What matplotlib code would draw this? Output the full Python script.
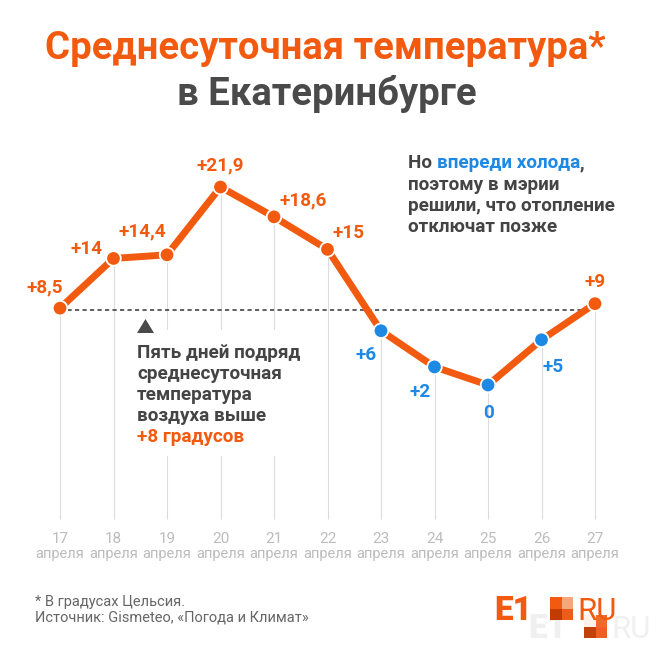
"""Среднесуточная температура в Екатеринбурге, 17-27 апреля."""

import matplotlib
import matplotlib.pyplot as plt
from matplotlib.patches import Rectangle, Polygon

matplotlib.use("Agg")

# --- data -----------------------------------------------------------------
days = ["17", "18", "19", "20", "21", "22", "23", "24", "25", "26", "27"]
month = "апреля"
temps = [8.5, 14, 14.4, 21.9, 18.6, 15, 6, 2, 0, 5, 9]
threshold = 8.3  # dashed reference line (+8 градусов)

title_1 = "Среднесуточная температура*"
title_2 = "в Екатеринбурге"
note_right = ["поэтому в мэрии", "решили, что отопление", "отключат позже"]
note_left = ["Пять дней подряд", "среднесуточная", "температура", "воздуха выше"]
note_left_hl = "+8 градусов"
footer = ["* В градусах Цельсия.", "Источник: Gismeteo, «Погода и Климат»"]

# --- style ----------------------------------------------------------------
ORANGE = "#f25a0f"
BLUE = "#1e88e5"
DARK = "#444444"
GRID = "#dcdcdc"
TICK = "#bcbcbc"
FONT = "Roboto"
plt.rcParams["font.family"] = [FONT, "DejaVu Sans"]

W, H = 656, 656
# pixel calibration of the plotting area
X0, DX = 60, 53.5      # x pixel of first day, spacing
Y0, DY = 385, 9.04     # y pixel of 0 degrees, pixels per degree


def fx(px):
    return px / W


def fy(py):
    return 1 - py / H


def yval(py):
    return (Y0 - py) / DY


fig = plt.figure(figsize=(W / 100, H / 100), dpi=100)
fig.patch.set_facecolor("white")
ax = fig.add_axes([0, 0, 1, 1])
ax.set_xlim(-X0 / DX, (W - X0) / DX)
ax.set_ylim((Y0 - H) / DY, Y0 / DY)
ax.axis("off")

xs = list(range(len(days)))

# vertical guide lines from each point down to the date labels
ax.vlines(xs, yval(519), temps, color=GRID, lw=0.8, zorder=1)

# white mask behind the left note
ax.add_patch(Rectangle((fx(125), fy(456)), fx(190), fx(126), transform=ax.transAxes,
                       facecolor="white", edgecolor="none", zorder=2))

# dashed threshold line
ax.plot([xs[0], xs[-1]], [threshold, threshold], color=DARK, lw=1.2,
        linestyle=(0, (2.5, 2.0)), zorder=3)

# main line and points
ax.plot(xs, temps, color=ORANGE, lw=5, solid_capstyle="round", zorder=4)
colors = [ORANGE if t > 8 else BLUE for t in temps]
ax.scatter(xs, temps, s=110, c=colors, edgecolors="white", linewidths=1.3, zorder=5)

# value labels: (dx, dy, ha) in pixels relative to point
label_pos = [(3, 16, "right"), (-11, 4, "right"), (-1, 18, "right"), (0, 17, "center"),
             (5, 11, "left"), (5, 11, "left"), (-4, -29, "right"), (-4, -30, "right"),
             (0, -33, "center"), (1, -32, "left"), (0, 17, "center")]
for x, t, c, (dx, dy, ha) in zip(xs, temps, colors, label_pos):
    txt = "0" if t == 0 else "+" + f"{t:g}".replace(".", ",")
    ax.annotate(txt, (x, t), xytext=(dx, dy), textcoords="offset pixels",
                ha=ha, va="baseline", color=c, fontsize=13.6, fontweight="bold",
                zorder=6)

# date labels
for x, d in zip(xs, days):
    ax.text(x, yval(543), d, ha="center", va="baseline", color=TICK, fontsize=11)
    ax.text(x, yval(558), month, ha="center", va="baseline", color=TICK, fontsize=10.5)

# title
fig.text(fx(325), fy(59), title_1, ha="center", va="baseline", color=ORANGE,
         fontsize=27.5, fontweight="bold")
fig.text(fx(327), fy(105), title_2, ha="center", va="baseline", color="#4a4a4a",
         fontsize=27.5, fontweight="bold")

# right note with mixed colours on the first line
fig.canvas.draw()
renderer = fig.canvas.get_renderer()


def text_width(s, **kw):
    t = fig.text(0, 0, s + "Н", **kw)
    ref = fig.text(0, 0, "Н", **kw)
    w = t.get_window_extent(renderer).width - ref.get_window_extent(renderer).width
    t.remove()
    ref.remove()
    return w


note_kw = dict(fontsize=13.6, fontweight="bold")
runs = [("Но ", DARK), ("впереди холода", BLUE), (",", DARK)]
x_px, prefix = 408, ""
for s, c in runs:
    fig.text(fx(x_px + text_width(prefix, **note_kw)), fy(168), s, ha="left",
             va="baseline", color=c, **note_kw)
    prefix += s
for i, line in enumerate(note_right):
    fig.text(fx(408), fy(190 + 21 * i), line, ha="left", va="baseline", color=DARK,
             **note_kw)

# left note
ax.add_patch(Polygon([(fx(137), fy(333)), (fx(154), fy(333)), (fx(145.5), fy(319))],
                     closed=True, transform=ax.transAxes, facecolor="#4a4a4a",
                     edgecolor="none", zorder=6))
for i, line in enumerate(note_left):
    fig.text(fx(137), fy(358 + 21 * i), line, ha="left", va="baseline", color=DARK,
             **note_kw)
fig.text(fx(137), fy(358 + 21 * len(note_left)), note_left_hl, ha="left",
         va="baseline", color=ORANGE, **note_kw)

# footer
for i, line in enumerate(footer):
    fig.text(fx(35), fy(606 + 16 * i), line, ha="left", va="baseline", color="#666666",
             fontsize=10.5)


# E1.RU logo (with its faint shadow copy)
def logo(ox, oy, text_color, sq_colors, z):
    fig.text(fx(494 + ox), fy(620 + oy), "E1", ha="left", va="baseline",
             color=text_color, fontsize=24, fontweight="heavy", zorder=z)
    fig.text(fx(577 + ox), fy(620 + oy), "RU", ha="left", va="baseline",
             color=text_color, fontsize=22.5, zorder=z)
    for (cx, cy), col in zip([(0, 0), (1, 0), (0, 1), (1, 1)], sq_colors):
        fig.patches.append(Rectangle((fx(550 + ox + 11.5 * cx), fy(608.5 + oy + 11.5 * cy)),
                                     fx(11.5), fx(11.5), transform=fig.transFigure,
                                     facecolor=col, edgecolor="none", zorder=z))


logo(34, 18, "#f0f0f0", ["#fdf1ea", "#f26a2a", "#c0420a", "#ef5f1f"], 3)
logo(0, 0, ORANGE, [ORANGE, "#f6a57d", "#c23c00", "#ee5c1c"], 4)

fig.savefig("out.png", dpi=100, facecolor="white")
